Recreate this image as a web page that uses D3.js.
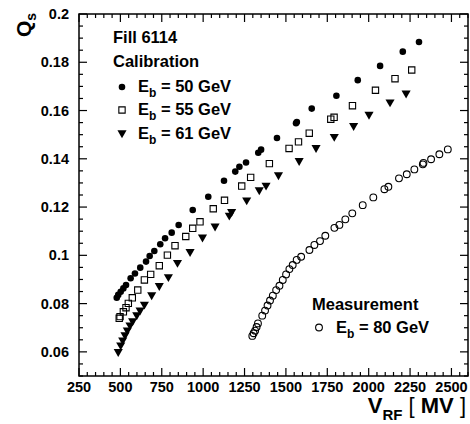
<!DOCTYPE html>
<html><head><meta charset="utf-8">
<script src="https://cdn.jsdelivr.net/npm/d3@7"></script>
<style>body{margin:0;background:#fff}svg{display:block}text{font-family:"Liberation Sans",Arial,sans-serif;font-weight:bold;fill:#000}</style>
</head><body><div id="chart"></div>
<script>
// Calibration E_b = 50 GeV (filled circles)
const cal50_x = [478,487,502,518,534,562,588,620,655,677,705,741,770,810,852,937,1031,1126,1194,1219,1259,1333,1350,1446,1561,1566,1656,1805,1934,2069,2206,2304];
const cal50_y = [0.0824,0.0836,0.0849,0.0863,0.0877,0.0905,0.0925,0.0949,0.0974,0.0997,0.1018,0.1046,0.1071,0.1094,0.1126,0.1188,0.1243,0.1309,0.1347,0.1367,0.1385,0.1425,0.1438,0.1486,0.1547,0.1552,0.1608,0.1661,0.1726,0.1785,0.1844,0.1884];
// Calibration E_b = 55 GeV (open squares)
const cal55_x = [493,498,518,534,548,572,605,645,683,735,784,830,895,937,981,1061,1129,1233,1287,1400,1519,1576,1641,1771,1791,1902,2041,2159,2260];
const cal55_y = [0.0739,0.0746,0.0766,0.0783,0.0801,0.0824,0.0856,0.0898,0.0921,0.0957,0.1001,0.1040,0.1078,0.1112,0.1139,0.1193,0.1228,0.1287,0.1323,0.1380,0.1443,0.1470,0.1506,0.1564,0.1572,0.1620,0.1684,0.1732,0.1768];
// Calibration E_b = 61 GeV (filled down triangles)
const cal61_x = [487,502,514,528,542,558,574,599,619,645,689,735,790,845,921,996,1072,1158,1172,1263,1339,1380,1455,1580,1682,1792,1909,2002,2129,2226];
const cal61_y = [0.0601,0.0628,0.0649,0.0670,0.0690,0.0711,0.0728,0.0753,0.0773,0.0797,0.0836,0.0874,0.0911,0.0970,0.1015,0.1075,0.1121,0.1166,0.1181,0.1229,0.1271,0.1290,0.1333,0.1392,0.1446,0.1492,0.1537,0.1584,0.1635,0.1672];
// Measurement E_b = 80 GeV (open circles)
const meas80_x = [1297,1305,1314,1323,1331,1357,1374,1389,1404,1421,1441,1461,1481,1501,1521,1541,1565,1592,1642,1672,1706,1738,1793,1823,1859,1901,1964,2028,2095,2119,2183,2230,2276,2327,2331,2377,2427,2478];
const meas80_y = [0.0666,0.0677,0.0688,0.0703,0.0718,0.0750,0.0771,0.0792,0.0813,0.0833,0.0856,0.0874,0.0898,0.0921,0.0943,0.0960,0.0981,0.0994,0.1022,0.1043,0.1059,0.1081,0.1114,0.1126,0.1149,0.1174,0.1208,0.1240,0.1274,0.1284,0.1319,0.1336,0.1356,0.1377,0.1383,0.1398,0.1419,0.1439];
const xTicks = [250,500,750,1000,1250,1500,1750,2000,2250,2500];
const yTicks = [0.06,0.08,0.1,0.12,0.14,0.16,0.18,0.2];
const yTickLabels = ["0.06","0.08","0.1","0.12","0.14","0.16","0.18","0.2"];

const W = 470, H = 424;
const L = 79, R = 468, T = 14, B = 376;
const svg = d3.select("#chart").append("svg").attr("width", W).attr("height", H);
const x = d3.scaleLinear().domain([250, 2600]).range([L, R]);
const y = d3.scaleLinear().domain([0.05, 0.2]).range([B, T]);

// ticks (inward, all four sides)
const xMinor = d3.range(250, 2601, 50);
const yMinor = d3.range(0, 31).map(i => 0.05 + i * 0.005);
const tk = svg.append("g").attr("stroke", "#000").attr("stroke-width", 1.2);
xMinor.forEach(v => {
  const major = xTicks.some(t => Math.abs(t - v) < 1e-6);
  const len = major ? 8 : 4;
  const px = x(v);
  tk.append("line").attr("x1", px).attr("x2", px).attr("y1", B).attr("y2", B - len);
  tk.append("line").attr("x1", px).attr("x2", px).attr("y1", T).attr("y2", T + len);
});
yMinor.forEach(v => {
  const major = yTicks.some(t => Math.abs(t - v) < 1e-6);
  const len = major ? 8 : 4;
  const py = y(v);
  tk.append("line").attr("x1", L).attr("x2", L + len).attr("y1", py).attr("y2", py);
  tk.append("line").attr("x1", R).attr("x2", R - len).attr("y1", py).attr("y2", py);
});
svg.append("rect").attr("x", L).attr("y", T).attr("width", R - L).attr("height", B - T)
  .attr("fill", "none").attr("stroke", "#000").attr("stroke-width", 1.5);

// tick labels
svg.append("g").selectAll("text").data(xTicks).join("text")
  .attr("x", d => x(d)).attr("y", 392).attr("text-anchor", "middle")
  .attr("font-size", 14.5).text(d => d);
svg.append("g").selectAll("text").data(yTicks).join("text")
  .attr("x", 69).attr("y", d => y(d) + 5).attr("text-anchor", "end")
  .attr("font-size", 14.5).text((d, i) => yTickLabels[i]);

// axis titles
const xt = svg.append("text").attr("x", 466).attr("y", 413).attr("text-anchor", "end").attr("font-size", 22);
xt.append("tspan").text("V");
xt.append("tspan").attr("font-size", 15).attr("dy", 7).text("RF");
xt.append("tspan").attr("dy", -7).attr("font-weight", "normal").text(" [ ");
xt.append("tspan").text("MV");
xt.append("tspan").attr("font-weight", "normal").text(" ]");

const yt = svg.append("text").attr("transform", "translate(31,37) rotate(-90)").attr("font-size", 21);
yt.append("tspan").text("Q");
yt.append("tspan").attr("font-size", 14).attr("dy", 5).text("s");

// markers
const g = svg.append("g");
const sym = {
  circle: d3.symbol().type(d3.symbolCircle).size(34),
  square: d3.symbol().type(d3.symbolSquare).size(40),
  tri: d3.symbol().type(d3.symbolTriangle).size(36),
  ocircle: d3.symbol().type(d3.symbolCircle).size(36)
};
function drawSeries(xs, ys, kind) {
  const data = xs.map((v, i) => [v, ys[i]]);
  const sel = g.append("g").selectAll("path").data(data).join("path")
    .attr("d", sym[kind]());
  if (kind === "tri") sel.attr("transform", d => `translate(${x(d[0])},${y(d[1])}) rotate(180)`);
  else sel.attr("transform", d => `translate(${x(d[0])},${y(d[1])})`);
  if (kind === "circle" || kind === "tri") sel.attr("fill", "#000");
  else sel.attr("fill", "none").attr("stroke", "#000").attr("stroke-width", 1.1);
}
drawSeries(cal50_x, cal50_y, "circle");
drawSeries(cal55_x, cal55_y, "square");
drawSeries(cal61_x, cal61_y, "tri");
drawSeries(meas80_x, meas80_y, "ocircle");

// legends
const fs = 16.5;
svg.append("text").attr("x", 113).attr("y", 43).attr("font-size", fs).text("Fill 6114");
svg.append("text").attr("x", 113).attr("y", 67).attr("font-size", fs).text("Calibration");
function legendRow(mx, my, kind, tx, ty, label) {
  const p = svg.append("path").attr("d", sym[kind]());
  if (kind === "tri") p.attr("transform", `translate(${mx},${my}) rotate(180)`);
  else p.attr("transform", `translate(${mx},${my})`);
  if (kind === "circle" || kind === "tri") p.attr("fill", "#000");
  else p.attr("fill", "none").attr("stroke", "#000").attr("stroke-width", 1.1);
  const t = svg.append("text").attr("x", tx).attr("y", ty).attr("font-size", fs);
  t.append("tspan").text("E");
  t.append("tspan").attr("font-size", 12).attr("dy", 5).text("b");
  t.append("tspan").attr("dy", -5).text(" = " + label);
}
legendRow(122, 87, "circle", 138, 92, "50 GeV");
legendRow(122, 110, "square", 138, 115, "55 GeV");
legendRow(122, 133, "tri", 138, 139, "61 GeV");
svg.append("text").attr("x", 312).attr("y", 310).attr("font-size", fs).text("Measurement");
legendRow(319, 327.5, "ocircle", 336, 333, "80 GeV");
</script></body></html>
